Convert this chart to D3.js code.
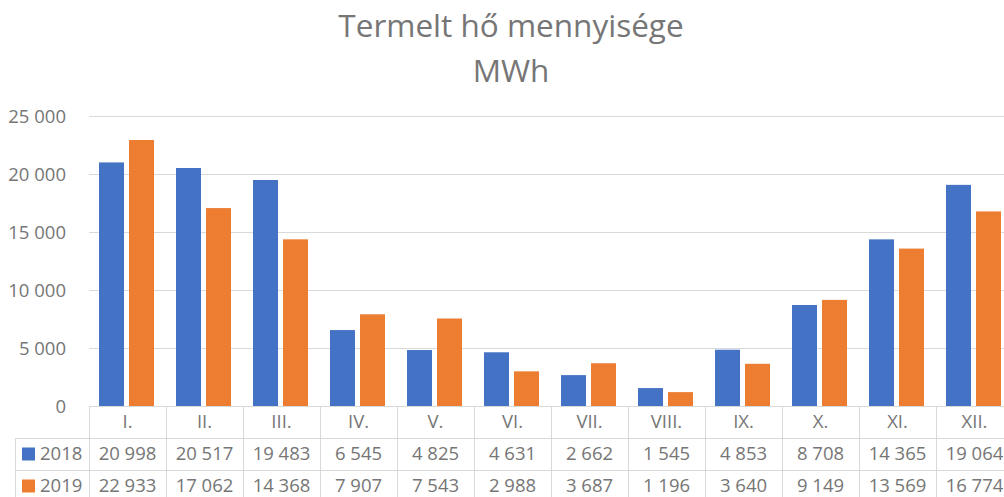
<!DOCTYPE html>
<html><head><meta charset="utf-8">
<script src="https://cdn.jsdelivr.net/npm/d3@7"></script>
<style>body{margin:0;background:#fff;overflow:hidden}svg{display:block}</style>
</head><body>
<script>
const categories = ["I.","II.","III.","IV.","V.","VI.","VII.","VIII.","IX.","X.","XI.","XII."];
const seriesNames = ["2018","2019"];
const values2018 = [20998,20517,19483,6545,4825,4631,2662,1545,4853,8708,14365,19064];
const values2019 = [22933,17062,14368,7907,7543,2988,3687,1196,3640,9149,13569,16774];
const yTicks = [0,5000,10000,15000,20000,25000];
const titleLines = ["Termelt hő mennyisége","MWh"];

const W=1004,H=497;
const colors={"2018":"#4472C4","2019":"#ED7D31"};
const textColor="#767676", gridColor="#d9d9d9";
const font="'Open Sans', sans-serif";
const fmt = v => d3.format(",")(v).replace(/,/g," ");

const svg=d3.select("body").append("svg").attr("width",W).attr("height",H);
const left=89, step=77;
const x=d3.scaleBand().domain(categories).range([left,left+step*categories.length]).padding(0);
const x1=d3.scaleBand().domain(seriesNames).range([10,65]).paddingInner(0.167).paddingOuter(0);
const y=d3.scaleLinear().domain([0,25000]).range([406,116]);
const seriesData={"2018":values2018,"2019":values2019};

// title
svg.append("g").selectAll("text").data(titleLines).join("text")
  .attr("x",511).attr("y",(d,i)=>37+i*45).attr("text-anchor","middle")
  .attr("font-family",font).attr("font-size",31.5).attr("fill",textColor).text(d=>d);

// gridlines + y axis
const yAxis=d3.axisLeft(y).tickValues(yTicks).tickFormat(fmt).tickSize(0).tickPadding(0);
const gy=svg.append("g").attr("transform",`translate(66,0)`).call(yAxis);
gy.select(".domain").remove();
gy.selectAll("text").attr("font-family",font).attr("font-size",18.5).attr("fill",textColor).attr("dy","0.35em");
svg.append("g").selectAll("line").data(yTicks).join("line")
  .attr("x1",left).attr("x2",W).attr("y1",d=>Math.round(y(d))+0.5).attr("y2",d=>Math.round(y(d))+0.5)
  .attr("stroke",gridColor).attr("stroke-width",1);

// bars
const groups=svg.append("g").selectAll("g").data(categories).join("g")
  .attr("transform",d=>`translate(${x(d)},0)`);
groups.selectAll("rect").data((c,i)=>seriesNames.map(s=>({s,v:seriesData[s][i]}))).join("rect")
  .attr("x",d=>x1(d.s)).attr("width",x1.bandwidth())
  .attr("y",d=>y(d.v)).attr("height",d=>y(0)-y(d.v)).attr("fill",d=>colors[d.s]);

// data table
const rowTop=406, rowH=32, tableBottom=H;
const tg=svg.append("g");
[1,2].forEach(r=>{
  tg.append("line").attr("x1",15).attr("x2",W).attr("y1",rowTop+r*rowH+0.5).attr("y2",rowTop+r*rowH+0.5)
    .attr("stroke",gridColor);
});
const vx=categories.map(c=>x(c)).concat([x(categories[categories.length-1])+step]);
tg.selectAll("line.v").data(vx).join("line").attr("class","v")
  .attr("x1",d=>Math.round(d)+0.5).attr("x2",d=>Math.round(d)+0.5).attr("y1",rowTop).attr("y2",tableBottom)
  .attr("stroke",gridColor);
tg.append("line").attr("x1",15.5).attr("x2",15.5).attr("y1",rowTop+rowH).attr("y2",tableBottom).attr("stroke",gridColor);
tg.selectAll("text.h").data(categories).join("text").attr("class","h")
  .attr("x",d=>x(d)+step/2).attr("y",rowTop+rowH/2).attr("dy","0.35em").attr("text-anchor","middle")
  .attr("font-family",font).attr("font-size",18.5).attr("fill",textColor).text(d=>d);
seriesNames.forEach((s,r)=>{
  const cy=rowTop+rowH*(r+1)+rowH/2;
  tg.append("rect").attr("x",22).attr("y",cy-6.5).attr("width",13).attr("height",13).attr("fill",colors[s]);
  tg.append("text").attr("x",40).attr("y",cy).attr("dy","0.35em").attr("font-family",font).attr("font-size",18.5)
    .attr("fill",textColor).text(s);
  tg.selectAll("text.r"+r).data(seriesData[s]).join("text").attr("class","r"+r)
    .attr("x",(d,i)=>x(categories[i])+step/2).attr("y",cy).attr("dy","0.35em").attr("text-anchor","middle")
    .attr("font-family",font).attr("font-size",18.5).attr("fill",textColor).text(d=>fmt(d));
});
</script>
</body></html>
